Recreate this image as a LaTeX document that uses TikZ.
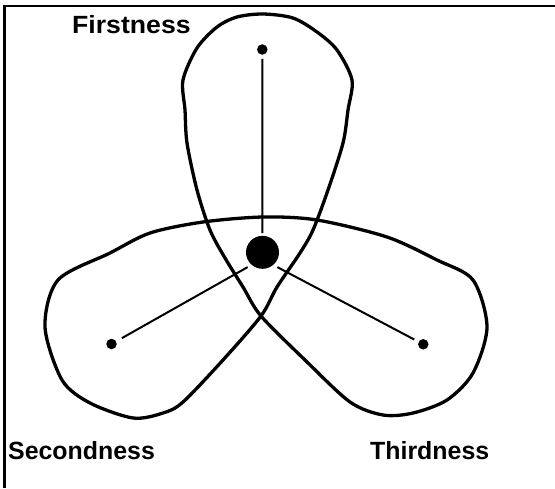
\documentclass[tikz,border=0pt]{standalone}
\usepackage{fontspec}
\setmainfont{Liberation Sans}
\begin{document}
\begin{tikzpicture}[x=1pt,y=-1pt,
  loopline/.style={line width=3.3pt,line join=round},
  spoke/.style={line width=2pt},
  smalldot/.style={circle,fill=black,inner sep=0pt,minimum size=10.5pt},
  bigdot/.style={circle,fill=black,inner sep=0pt,minimum size=33pt},
  lbl/.style={anchor=base west,inner sep=0pt,font=\fontsize{24.9}{28}\selectfont\bfseries}]
\useasboundingbox (0,0) rectangle (555,488);
% frame (only top and left edges visible)
\draw[line width=2.6pt] (4.7,488) -- (4.7,6) -- (555,6);
% trefoil curve
\draw[loopline] plot[smooth cycle,tension=0.5] coordinates {
 (263,14) (237,17) (217,27) (197,48) (183,80) (185,110) (187,143) (197,190)
 (210,230) (225,258) (243,287) (261,316) (305,360) (350,402) (383,415)
 (413,413) (447,400) (473,373) (487,327) (473,280) (437,260) (387,237)
 (317,220) (263,217) (203,222) (150,233) (110,253) (58,280) (45,327)
 (62,380) (90,403) (133,418) (163,413) (183,402) (223,360) (261,316)
 (277,287) (300,253) (313,230) (328,190) (343,143) (348,110) (352,80)
 (337,50) (317,32) (293,18)};
% dots
\node[bigdot] (c) at (262.5,252.3) {};
\coordinate (hub) at (262,259);
\node[smalldot] (f) at (262.3,49.5) {};
\node[smalldot] (s) at (111.5,344) {};
\node[smalldot] (t) at (423.3,344.3) {};
% spokes
\draw[spoke,shorten <=4pt,shorten >=2.5pt] (f) -- (c);
\draw[spoke,shorten <=6.5pt,shorten >=16.5pt] (s) -- (hub);
\draw[spoke,shorten <=4.7pt,shorten >=17.4pt] (t) -- (hub);
% labels
\node[lbl] (lf) at (72,33) {\scalebox{1.07}[1]{Firstness}};
\node[lbl] (ls) at (8,459) {Secondness};
\node[lbl] (lt) at (370,459) {Thirdness};
\end{tikzpicture}
\end{document}
